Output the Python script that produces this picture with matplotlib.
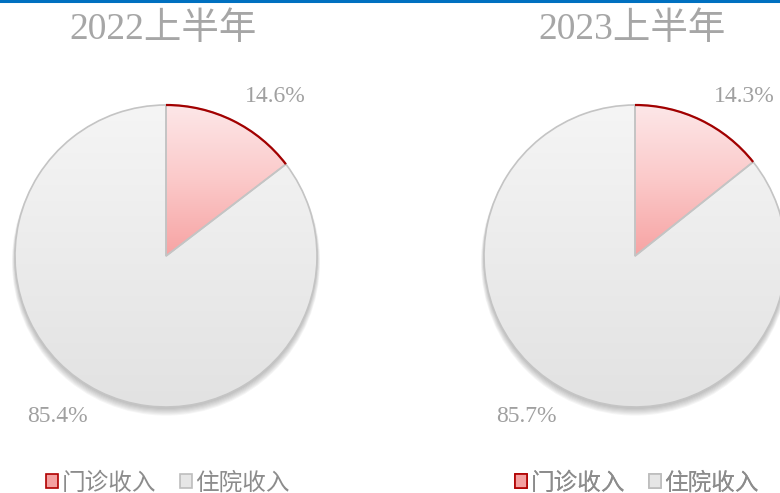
import numpy as np
import matplotlib
matplotlib.use('Agg')
import matplotlib.pyplot as plt
from matplotlib.patches import Arc, Circle, Patch
from matplotlib.colors import LinearSegmentedColormap
from matplotlib.lines import Line2D
from matplotlib.font_manager import FontProperties

# ---- data ----
titles = ['2022上半年', '2023上半年']
categories = ['门诊收入', '住院收入']
outpatient = [14.6, 14.3]
inpatient = [85.4, 85.7]

# ---- layout ----
W, H = 780, 493
fig = plt.figure(figsize=(W / 100, H / 100), dpi=100)
ax = fig.add_axes([0, 0, 1, 1])

centers_x = [166, 635]
cy = H - 256
R = 151

serif = ['Liberation Serif', 'Noto Sans CJK SC']
cjk = ['Noto Sans CJK SC', 'DejaVu Sans']

red_cmap = LinearSegmentedColormap.from_list('r', ['#f7a3a3', '#fbc9c9', '#fde7e8'])
gray_cmap = LinearSegmentedColormap.from_list('g', ['#e2e2e2', '#f5f5f5'])
grad = np.linspace(0, 1, 256).reshape(-1, 1)

for i in range(2):
    cx = centers_x[i]
    vals = [outpatient[i], inpatient[i]]
    # soft shadow (mostly below)
    for k in range(7):
        ax.add_patch(Circle((cx, cy - 2 - k * 0.6), R + k * 0.5, facecolor='#5a5a5a',
                            edgecolor='none', alpha=0.06, zorder=1))
    wedges, _ = ax.pie(vals, center=(cx, cy), radius=R, startangle=90,
                       counterclock=False, colors=['none', 'none'],
                       wedgeprops=dict(edgecolor='#c4c4c4', linewidth=1.2, zorder=3))
    extents = [[cx - R, cx + R, cy, cy + R], [cx - R, cx + R, cy - R, cy + R]]
    for w, cmap, ext in zip(wedges, [red_cmap, gray_cmap], extents):
        im = ax.imshow(grad, cmap=cmap, extent=ext,
                       origin='lower', aspect='auto', zorder=2, interpolation='bicubic')
        im.set_clip_path(w)
    w0 = wedges[0]
    ax.add_patch(Arc((cx, cy), 2 * R, 2 * R, theta1=w0.theta1, theta2=w0.theta2,
                     color='#a30000', lw=1.6, zorder=4))
    # data labels
    ax.text(cx + 109, cy + 159, f'{outpatient[i]:.1f}%', ha='center', va='center',
            family=serif, fontsize=17, color='#a0a0a0')
    ax.text(cx - 109, cy - 160, f'{inpatient[i]:.1f}%', ha='center', va='center',
            family=serif, fontsize=17, color='#a0a0a0')
    # title
    ax.text(cx - 3, H - 30, titles[i], ha='center', va='center',
            family=serif, fontsize=27, color='#a6a6a6')
    # legend
    handles = [Patch(facecolor='#f4a0a0', edgecolor='#b00000', linewidth=1.2),
               Patch(facecolor='#e6e6e6', edgecolor='#bdbdbd', linewidth=1.2)]
    leg = ax.legend(handles, categories, loc='center', bbox_to_anchor=(cx + 2, H - 483),
                    bbox_transform=ax.transData, ncol=2, frameon=False,
                    handlelength=0.5, handleheight=0.5, handletextpad=0.15,
                    columnspacing=1.0, prop=FontProperties(family=cjk, size=17),
                    labelcolor='#8c8c8c', borderpad=0, borderaxespad=0)
    ax.add_artist(leg)

ax.set_xlim(0, W)
ax.set_ylim(0, H)
ax.axis('off')

fig.add_artist(Line2D([0, 1], [1 - 1 / H, 1 - 1 / H], color='#0070c0', lw=2.2))

fig.savefig('out.png', dpi=100)
